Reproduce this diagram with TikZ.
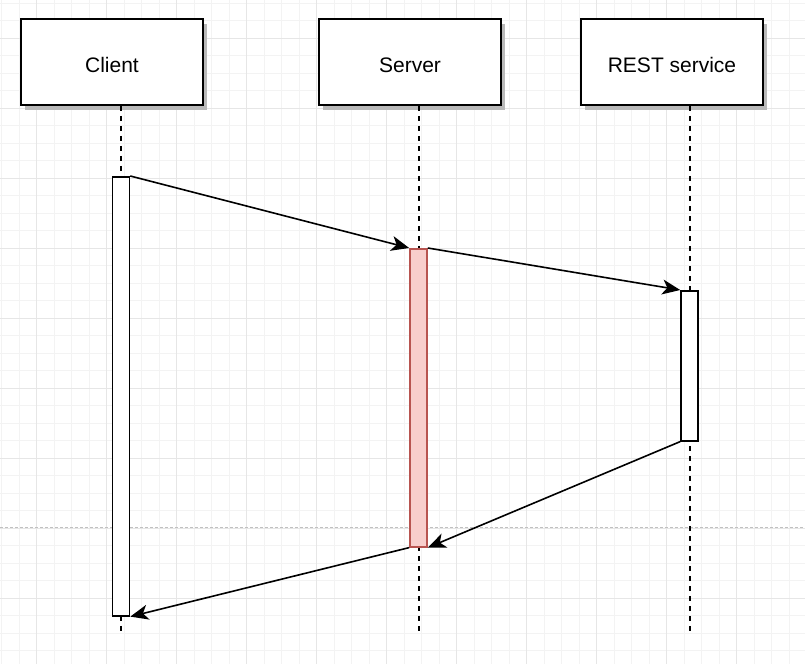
\documentclass[tikz,border=0pt]{standalone}
\usepackage{fontspec}
\setmainfont{Liberation Sans}
\usetikzlibrary{positioning,arrows.meta,shadows}

\definecolor{gridminor}{HTML}{F3F3F3}
\definecolor{gridmajor}{HTML}{E6E6E6}
\definecolor{pagebreak}{HTML}{C0C0C0}
\definecolor{actfill}{HTML}{F8CECC}
\definecolor{actdraw}{HTML}{B85450}

\begin{document}
\begin{tikzpicture}[x=1pt,y=-1pt]
\useasboundingbox (0,0) rectangle (805,664);
% Draw background grid
\foreach \k in {0,...,45} \draw[gridminor,line width=1pt] (1.7+17.5*\k,0) -- (1.7+17.5*\k,664);
\foreach \k in {0,...,37} \draw[gridminor,line width=1pt] (0,3.3+17.5*\k) -- (805,3.3+17.5*\k);
\foreach \k in {2,6,...,42} \draw[gridmajor,line width=1pt] (1.7+17.5*\k,0) -- (1.7+17.5*\k,664);
\foreach \k in {2,6,...,34} \draw[gridmajor,line width=1pt] (0,3.3+17.5*\k) -- (805,3.3+17.5*\k);
\draw[pagebreak,line width=0.8pt,dash pattern=on 3pt off 2pt] (0,527.5) -- (805,527.5);
% Draw sequence diagram
   \begin{scope}[ node distance=298pt,on grid,>={Stealth[length=18pt,width=15pt,inset=5pt]},
                   head/.style={rectangle,draw,line width=1.9pt,fill=white,minimum width=182pt,
                                minimum height=86pt,font=\fontsize{21}{25}\selectfont,
                                text height=20.6pt,text depth=0pt,
                                drop shadow={shadow xshift=4pt,shadow yshift=-5pt,fill=gray!55,opacity=1}},
                   bar/.style={rectangle,draw,line width=1.6pt,fill=white,minimum width=17pt,inner sep=0pt,anchor=north},
                   life/.style={line width=1.9pt,dash pattern=on 5pt off 5pt},
                   msg/.style={->,line width=1.6pt} ]
     \node [head] (client)                          at (112,62) {Client};
     \node [head] (server)  [right=of client]                   {Server};
     \node [head] (rest)    [right=of server,xshift=-36pt]      {REST service};
     \coordinate (cend) at (121,633);
     \coordinate (send) at (419,633);
     \coordinate (rend) at (690,633);
     \draw [life] (client.south -| cend) -- (cend);
     \draw [life] (server.south -| send) -- (send);
     \draw [life] (rest.south -| rend)   -- (rend);
     \node [bar,minimum height=439pt] (cbar) at (121,176) {};
     \node [bar,minimum height=298pt,fill=actfill,draw=actdraw] (sbar) at (418.5,248) {};
     \node [bar,minimum height=150pt] (rbar) at (689.5,290) {};
     \draw [msg] (cbar.north east) -- (sbar.north west);
     \draw [msg] (sbar.north east) -- (rbar.north west);
     \draw [msg] (rbar.south west) -- (sbar.south east);
     \draw [msg] (sbar.south west) -- (cbar.south east);
   \end{scope}
\end{tikzpicture}
\end{document}
